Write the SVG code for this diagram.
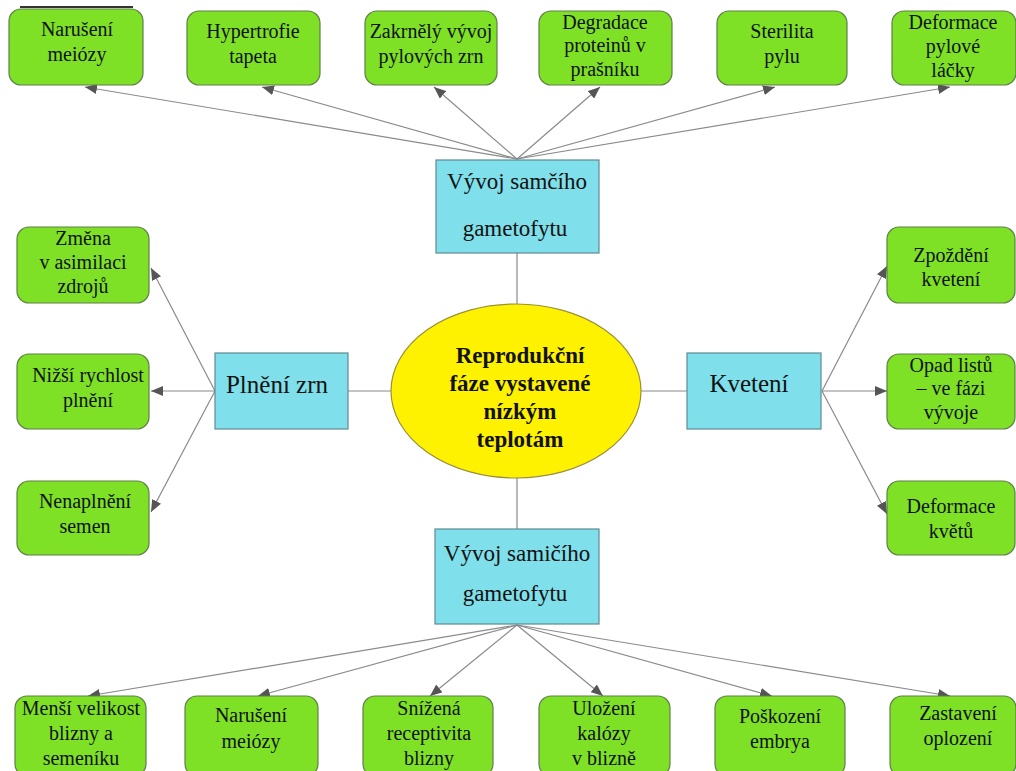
<svg xmlns="http://www.w3.org/2000/svg" width="1016" height="771" viewBox="0 0 1016 771">
<defs>
<marker id="ah" viewBox="0 0 12 10" refX="12" refY="5" markerWidth="12" markerHeight="10" markerUnits="userSpaceOnUse" orient="auto">
<path d="M0,0 L12,5 L0,10 Z" fill="#555"/>
</marker>
<style>
.g{fill:#7ee126;stroke:#5f7f4a;stroke-width:1.2}
.b{fill:#7fdfea;stroke:#5f8a93;stroke-width:1.2}
.t{font-family:"Liberation Serif","Times New Roman",serif;font-size:20px;fill:#111;text-anchor:middle}
.tb{font-family:"Liberation Serif","Times New Roman",serif;font-size:23px;fill:#111;text-anchor:middle}
.tk{font-family:"Liberation Serif","Times New Roman",serif;font-size:25px;fill:#111;text-anchor:middle}
.te{font-family:"Liberation Serif","Times New Roman",serif;font-size:23px;font-weight:bold;fill:#111;text-anchor:middle}
.c{stroke:#8a8a8a;stroke-width:1.2;fill:none}
.ca{stroke:#8a8a8a;stroke-width:1.2;fill:none;marker-end:url(#ah)}
</style>
</defs>
<rect width="1016" height="771" fill="#fff"/>
<line x1="20" y1="7" x2="133" y2="7" stroke="#333" stroke-width="2"/>
<g id="connectors">
<line class="c" x1="517" y1="253" x2="517" y2="304"/>
<line class="c" x1="517" y1="478" x2="517" y2="529"/>
<line class="c" x1="348" y1="391" x2="391" y2="391"/>
<line class="c" x1="641" y1="391" x2="687" y2="391"/>
<line class="ca" x1="517" y1="159" x2="85" y2="87"/>
<line class="ca" x1="517" y1="159" x2="262" y2="87"/>
<line class="ca" x1="517" y1="159" x2="434" y2="87"/>
<line class="ca" x1="517" y1="159" x2="600" y2="87"/>
<line class="ca" x1="517" y1="159" x2="775" y2="87"/>
<line class="ca" x1="517" y1="159" x2="950" y2="87"/>
<line class="ca" x1="215" y1="391" x2="151" y2="268"/>
<line class="ca" x1="215" y1="391" x2="151" y2="391"/>
<line class="ca" x1="215" y1="391" x2="151" y2="512"/>
<line class="ca" x1="822" y1="391" x2="887" y2="266"/>
<line class="ca" x1="822" y1="391" x2="887" y2="391"/>
<line class="ca" x1="822" y1="391" x2="887" y2="514"/>
<line class="ca" x1="517" y1="625" x2="88" y2="696"/>
<line class="ca" x1="517" y1="625" x2="258" y2="696"/>
<line class="ca" x1="517" y1="625" x2="430" y2="696"/>
<line class="ca" x1="517" y1="625" x2="603" y2="696"/>
<line class="ca" x1="517" y1="625" x2="772" y2="696"/>
<line class="ca" x1="517" y1="625" x2="950" y2="696"/>
</g>
<g id="center">
<ellipse cx="516" cy="391" rx="125" ry="87" fill="#fff200" stroke="#9a8f3a" stroke-width="1.2"/>
<text class="te" x="520" y="363">Reprodukční</text>
<text class="te" x="520" y="391">fáze vystavené</text>
<text class="te" x="520" y="419">nízkým</text>
<text class="te" x="520" y="447">teplotám</text>
</g>
<g id="samci">
<rect class="b" x="436" y="160" width="163" height="93"/>
<text class="tb" x="517" y="189">Vývoj samčího</text>
<text class="tb" x="515" y="236">gametofytu</text>
</g>
<g id="samici">
<rect class="b" x="435" y="529" width="164" height="95"/>
<text class="tb" x="517" y="561">Vývoj samičího</text>
<text class="tb" x="515" y="601">gametofytu</text>
</g>
<g id="plneni">
<rect class="b" x="215" y="353" width="133" height="76"/>
<text class="tk" x="277" y="393">Plnění zrn</text>
</g>
<g id="kveteni">
<rect class="b" x="687" y="353" width="134" height="76"/>
<text class="tk" x="749" y="392">Kvetení</text>
</g>
<g id="t1"><rect class="g" x="9" y="9" width="134" height="76" rx="12"/><text class="t" x="77" y="36">Narušení</text><text class="t" x="77" y="61">meiózy</text></g>
<g id="t2"><rect class="g" x="187" y="11" width="133" height="74" rx="12"/><text class="t" x="253" y="38">Hypertrofie</text><text class="t" x="253" y="63">tapeta</text></g>
<g id="t3"><rect class="g" x="365" y="11" width="132" height="74" rx="12"/><text class="t" x="431" y="38">Zakrnělý vývoj</text><text class="t" x="431" y="63">pylových zrn</text></g>
<g id="t4"><rect class="g" x="539" y="11" width="133" height="74" rx="12"/><text class="t" x="605" y="29">Degradace</text><text class="t" x="605" y="52">proteinů v</text><text class="t" x="605" y="76">prašníku</text></g>
<g id="t5"><rect class="g" x="717" y="11" width="130" height="74" rx="12"/><text class="t" x="782" y="38">Sterilita</text><text class="t" x="782" y="63">pylu</text></g>
<g id="t6"><rect class="g" x="892" y="11" width="124" height="74" rx="12"/><text class="t" x="953" y="29">Deformace</text><text class="t" x="953" y="53">pylové</text><text class="t" x="953" y="77">láčky</text></g>
<g id="l1"><rect class="g" x="17" y="227" width="132" height="76" rx="12"/><text class="t" x="83" y="245">Změna</text><text class="t" x="83" y="269">v asimilaci</text><text class="t" x="83" y="293">zdrojů</text></g>
<g id="l2"><rect class="g" x="17" y="354" width="132" height="75" rx="12"/><text class="t" x="88" y="382">Nižší rychlost</text><text class="t" x="88" y="407">plnění</text></g>
<g id="l3"><rect class="g" x="17" y="481" width="132" height="74" rx="12"/><text class="t" x="85" y="508">Nenaplnění</text><text class="t" x="85" y="533">semen</text></g>
<g id="r1"><rect class="g" x="887" y="227" width="128" height="76" rx="12"/><text class="t" x="951" y="262">Zpoždění</text><text class="t" x="951" y="286">kvetení</text></g>
<g id="r2"><rect class="g" x="887" y="354" width="128" height="75" rx="12"/><text class="t" x="951" y="372">Opad listů</text><text class="t" x="951" y="395">– ve fázi</text><text class="t" x="951" y="419">vývoje</text></g>
<g id="r3"><rect class="g" x="887" y="481" width="128" height="74" rx="12"/><text class="t" x="951" y="513">Deformace</text><text class="t" x="951" y="538">květů</text></g>
<g id="b1"><rect class="g" x="15" y="696" width="131" height="80" rx="12"/><text class="t" x="81" y="715">Menší velikost</text><text class="t" x="81" y="740">blizny a</text><text class="t" x="81" y="765">semeníku</text></g>
<g id="b2"><rect class="g" x="185" y="696" width="133" height="80" rx="12"/><text class="t" x="251" y="722">Narušení</text><text class="t" x="251" y="748">meiózy</text></g>
<g id="b3"><rect class="g" x="363" y="696" width="130" height="80" rx="12"/><text class="t" x="429" y="715">Snížená</text><text class="t" x="429" y="740">receptivita</text><text class="t" x="429" y="765">blizny</text></g>
<g id="b4"><rect class="g" x="539" y="696" width="131" height="80" rx="12"/><text class="t" x="604" y="715">Uložení</text><text class="t" x="604" y="740">kalózy</text><text class="t" x="604" y="765">v blizně</text></g>
<g id="b5"><rect class="g" x="715" y="696" width="130" height="80" rx="12"/><text class="t" x="780" y="723">Poškození</text><text class="t" x="780" y="748">embrya</text></g>
<g id="b6"><rect class="g" x="890" y="696" width="126" height="80" rx="12"/><text class="t" x="958" y="720">Zastavení</text><text class="t" x="958" y="745">oplození</text></g>
</svg>
